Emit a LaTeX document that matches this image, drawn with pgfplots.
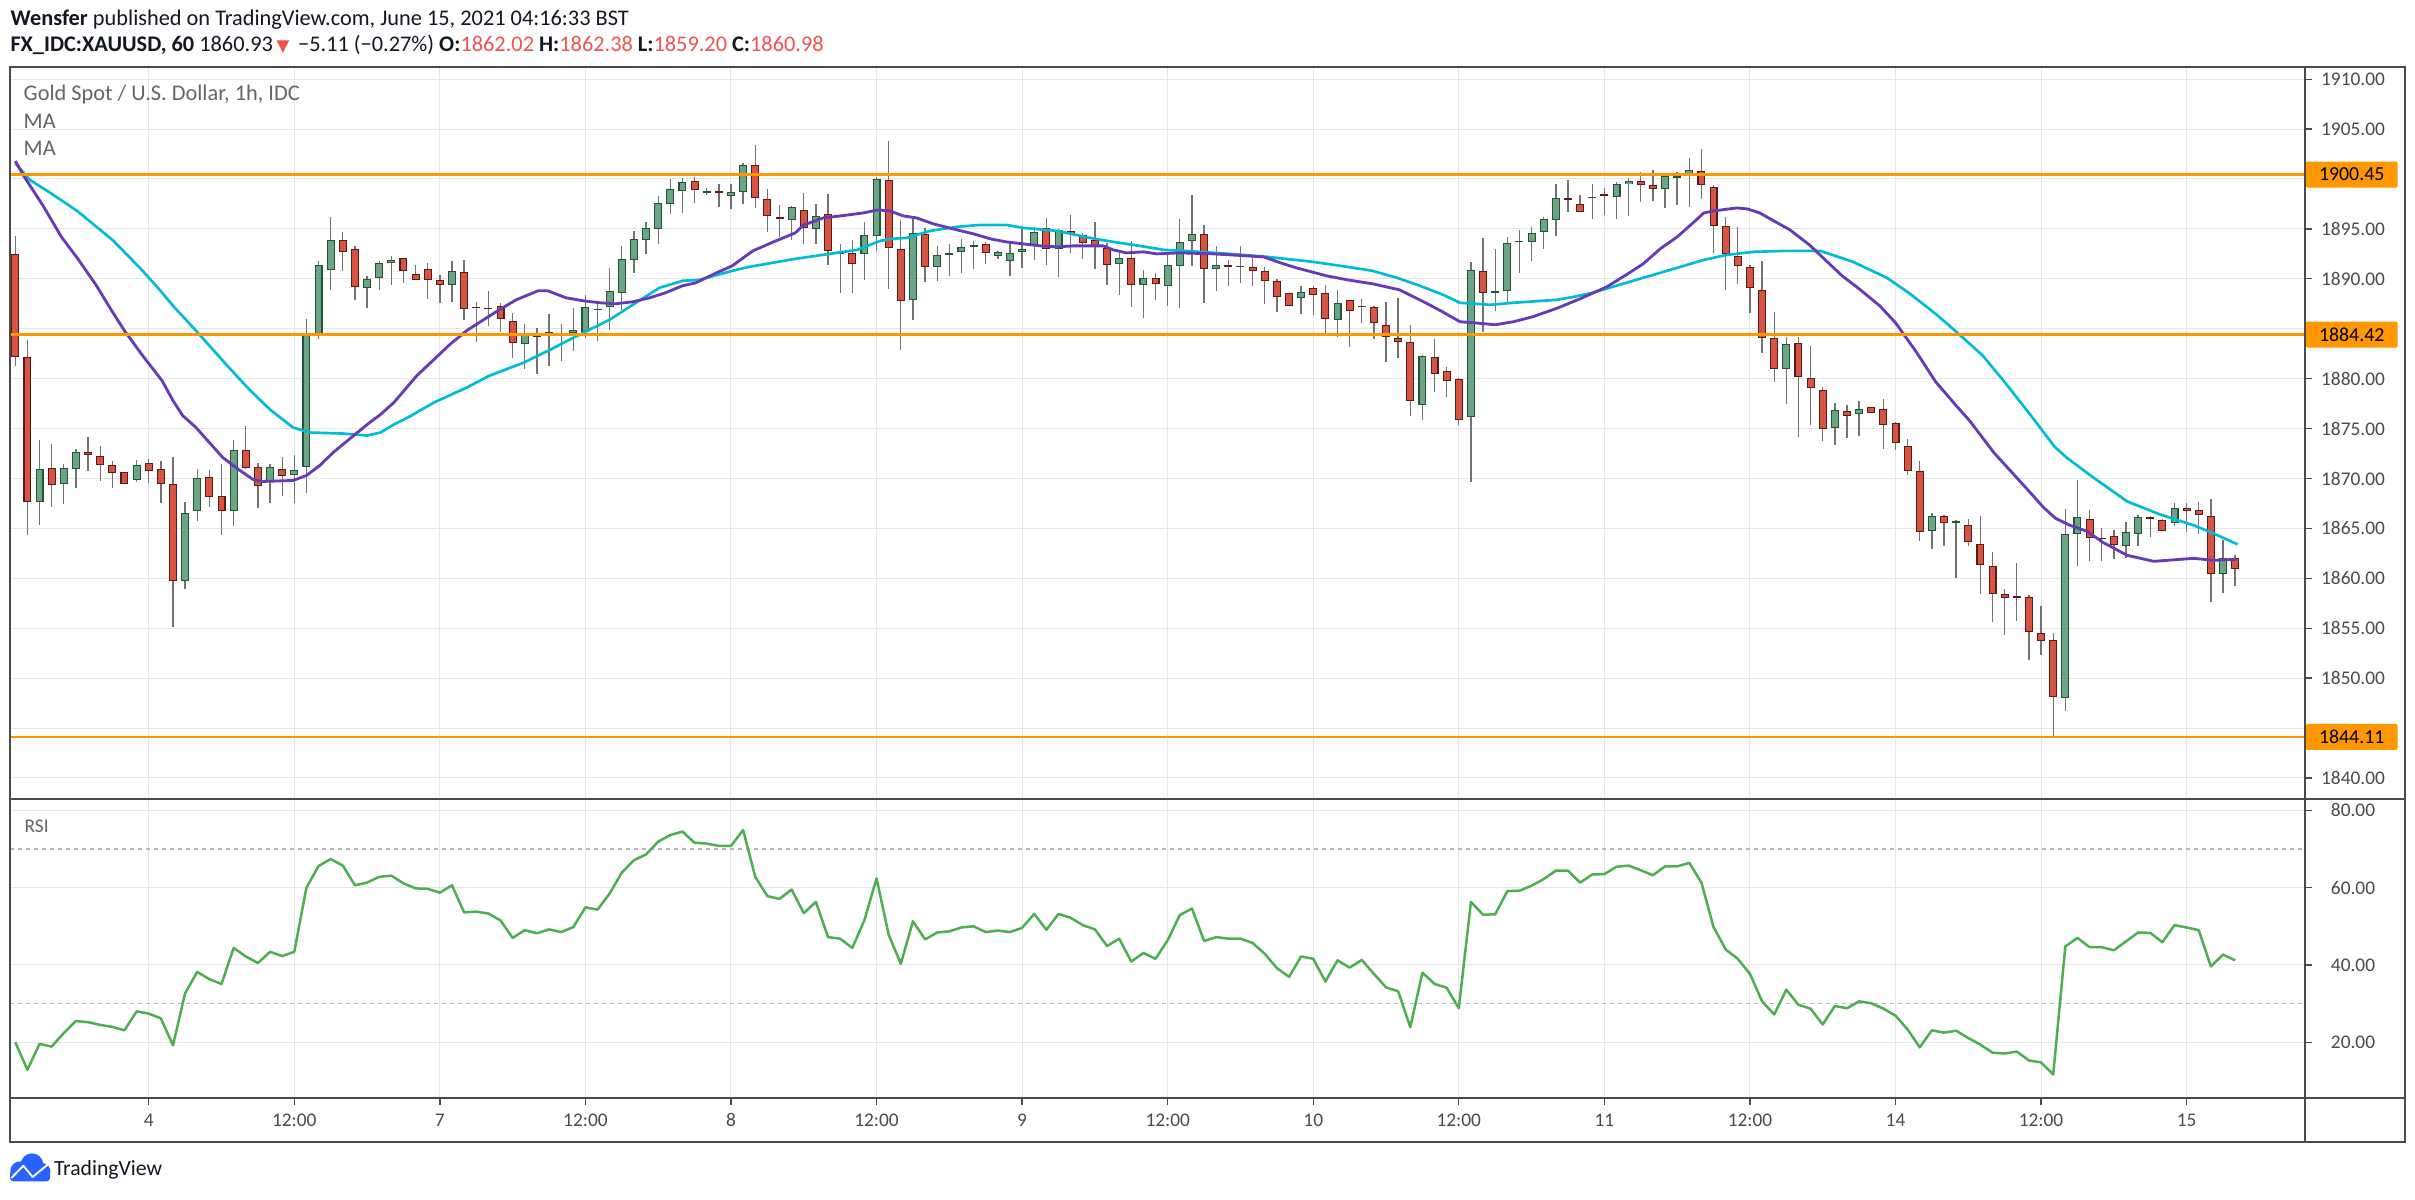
\documentclass[border=0pt]{standalone}
\usepackage{fontspec}
\setmainfont{Carlito}
\newfontfamily\symfont{DejaVu Sans}
\usepackage{pgfplots}
\usepackage{pgfplotstable}
\pgfplotsset{compat=1.18}
\definecolor{upfill}{HTML}{6BA583}
\definecolor{upline}{HTML}{225437}
\definecolor{dnfill}{HTML}{D75442}
\definecolor{dnline}{HTML}{5B1A13}
\definecolor{wickc}{HTML}{737375}
\definecolor{maP}{HTML}{673AB7}
\definecolor{maC}{HTML}{00BCD4}
\definecolor{orng}{HTML}{FF9800}
\definecolor{rsic}{HTML}{4CAF50}
\definecolor{gridc}{HTML}{E6E6E6}
\definecolor{framec}{HTML}{4A4A4A}
\definecolor{txt}{HTML}{4A4A4A}
\definecolor{hdr}{HTML}{131722}
\definecolor{redv}{HTML}{EF5350}
\definecolor{dashc}{HTML}{B8B8B8}
\definecolor{tvblue}{HTML}{2962FF}

\pgfplotstableread{
i o h l c
0 1892.5 1894.33 1881.27 1882.2
1 1882.2 1883.83 1864.37 1867.7
2 1867.7 1873.83 1865.37 1871.0
3 1871.0 1873.47 1867.17 1869.3
4 1869.4 1871.43 1867.47 1871.0
5 1871.0 1872.93 1869.07 1872.7
6 1872.7 1874.13 1870.77 1872.4
7 1872.3 1873.23 1869.77 1871.4
8 1871.4 1871.73 1869.07 1870.6
9 1870.6 1870.6 1869.4 1869.4
10 1869.9 1871.83 1869.67 1871.4
11 1871.6 1871.93 1869.6 1870.8
12 1870.9 1871.73 1867.57 1869.4
13 1869.4 1872.13 1855.1 1859.7
14 1859.7 1867.6 1858.97 1866.6
15 1866.8 1871.0 1865.73 1870.1
16 1870.1 1870.9 1867.17 1868.1
17 1868.3 1871.43 1864.37 1866.8
18 1866.8 1873.83 1865.27 1872.9
19 1872.9 1875.23 1871.0 1871.0
20 1871.2 1871.6 1867.07 1869.3
21 1869.6 1871.43 1867.57 1871.1
22 1871.0 1872.13 1868.27 1870.3
23 1870.4 1872.33 1867.57 1870.9
24 1871.2 1886.03 1868.6 1884.5
25 1884.5 1891.83 1883.93 1891.4
26 1890.9 1896.2 1888.87 1893.9
27 1893.9 1894.7 1890.8 1892.7
28 1893.0 1893.3 1887.87 1889.2
29 1889.1 1890.27 1887.07 1890.0
30 1890.1 1891.8 1888.87 1891.6
31 1891.6 1892.3 1889.37 1891.9
32 1892.1 1892.1 1889.57 1890.8
33 1890.5 1891.4 1889.9 1889.9
34 1891.0 1891.6 1888.0 1889.9
35 1889.9 1890.4 1887.57 1889.4
36 1889.4 1891.8 1887.67 1890.8
37 1890.7 1891.9 1885.87 1887.0
38 1887.2 1887.7 1883.67 1887.1
39 1887.1 1888.8 1885.27 1887.0
40 1887.3 1887.6 1884.67 1886.0
41 1885.8 1886.6 1882.13 1883.6
42 1883.5 1885.5 1881.0 1884.6
43 1884.3 1885.1 1880.5 1884.2
44 1884.5 1886.5 1881.27 1884.7
45 1884.4 1885.5 1881.8 1884.3
46 1884.6 1887.1 1882.8 1884.9
47 1884.7 1888.4 1884.1 1887.2
48 1886.9 1887.6 1883.8 1887.0
49 1887.2 1891.1 1884.9 1888.8
50 1888.6 1893.3 1886.9 1892.0
51 1891.9 1894.8 1890.6 1894.0
52 1893.9 1895.7 1892.5 1895.1
53 1895.0 1898.3 1893.5 1897.6
54 1897.5 1900.0 1896.5 1899.0
55 1898.8 1900.1 1896.6 1899.7
56 1899.8 1900.2 1897.6 1898.9
57 1898.6 1899.1 1898.4 1898.8
58 1898.8 1899.5 1897.2 1898.6
59 1898.3 1899.5 1897.0 1898.7
60 1898.7 1901.6 1897.5 1901.4
61 1901.4 1903.4 1897.1 1898.1
62 1898.0 1899.0 1894.7 1896.3
63 1896.2 1897.4 1894.2 1896.0
64 1895.9 1897.3 1893.9 1897.2
65 1896.9 1898.6 1893.5 1895.1
66 1895.0 1897.5 1893.5 1896.3
67 1896.5 1898.5 1891.4 1892.8
68 1892.7 1893.5 1888.6 1892.5
69 1892.6 1893.9 1888.6 1891.5
70 1892.5 1895.7 1889.9 1894.4
71 1894.3 1900.2 1892.8 1900.0
72 1899.9 1903.8 1889.0 1893.1
73 1893.0 1895.9 1882.9 1887.8
74 1887.9 1896.3 1885.9 1894.6
75 1894.5 1895.1 1889.7 1891.2
76 1891.2 1893.3 1889.8 1892.4
77 1892.4 1893.5 1890.3 1892.6
78 1892.7 1894.0 1890.6 1893.2
79 1893.2 1893.8 1891.0 1893.4
80 1893.5 1893.7 1891.5 1892.6
81 1892.3 1892.8 1892.0 1892.7
82 1891.8 1893.6 1890.3 1892.6
83 1892.7 1895.2 1891.1 1893.0
84 1893.3 1895.2 1891.9 1894.7
85 1895.1 1896.1 1891.4 1893.0
86 1893.0 1895.0 1890.2 1894.9
87 1894.8 1896.4 1892.6 1894.5
88 1894.4 1894.6 1892.0 1893.6
89 1893.9 1895.7 1891.0 1893.2
90 1893.1 1893.6 1889.4 1891.4
91 1891.5 1892.6 1888.4 1892.1
92 1892.1 1893.8 1887.2 1889.4
93 1889.4 1890.9 1886.1 1890.1
94 1890.1 1890.6 1887.9 1889.5
95 1889.3 1892.6 1887.3 1891.4
96 1891.3 1896.0 1887.1 1893.7
97 1893.8 1898.4 1891.3 1894.5
98 1894.5 1895.4 1887.6 1891.0
99 1891.0 1893.3 1888.8 1891.4
100 1891.35 1891.9 1889.3 1891.3
101 1891.2 1893.3 1889.6 1891.3
102 1891.2 1892.2 1889.3 1890.8
103 1890.8 1891.2 1887.5 1889.8
104 1889.8 1890.0 1886.7 1888.2
105 1888.6 1888.6 1887.3 1887.3
106 1888.1 1889.3 1886.5 1888.7
107 1889.1 1889.3 1886.4 1888.4
108 1888.6 1889.4 1884.3 1886.0
109 1885.9 1888.9 1884.2 1887.6
110 1887.9 1887.9 1883.2 1886.8
111 1887.2 1888.0 1885.6 1887.3
112 1887.2 1887.3 1884.0 1885.6
113 1885.4 1887.7 1881.7 1884.2
114 1884.1 1888.1 1882.1 1883.7
115 1883.7 1885.4 1876.3 1877.8
116 1877.4 1882.4 1875.9 1882.3
117 1882.2 1884.0 1878.7 1880.5
118 1880.8 1881.2 1878.2 1879.8
119 1880.0 1880.1 1875.4 1875.9
120 1876.2 1891.7 1869.7 1890.9
121 1890.8 1894.1 1884.7 1888.6
122 1888.65 1893.0 1886.8 1888.7
123 1888.8 1894.2 1887.6 1893.6
124 1893.7 1894.9 1890.6 1893.8
125 1893.7 1895.2 1891.8 1894.6
126 1894.7 1896.2 1893.0 1896.0
127 1895.9 1899.5 1894.3 1898.1
128 1898.1 1899.9 1896.7 1898.0
129 1897.5 1898.4 1896.7 1896.7
130 1898.1 1899.5 1896.0 1898.2
131 1898.5 1899.1 1896.4 1898.3
132 1898.2 1899.7 1896.0 1899.5
133 1899.5 1900.1 1896.3 1899.8
134 1899.8 1900.7 1897.7 1899.4
135 1899.4 1900.9 1897.8 1899.0
136 1899.0 1900.3 1897.1 1900.3
137 1900.1 1900.7 1897.4 1900.3
138 1900.3 1902.1 1897.2 1900.9
139 1900.8 1903.0 1898.0 1899.4
140 1899.2 1899.4 1892.6 1895.3
141 1895.3 1896.2 1888.9 1892.5
142 1892.3 1895.2 1889.5 1891.3
143 1891.2 1891.4 1886.6 1889.1
144 1888.9 1891.8 1882.6 1884.1
145 1884.05 1886.7 1879.7 1881.0
146 1881.0 1884.2 1877.5 1883.5
147 1883.6 1884.2 1874.2 1880.2
148 1880.1 1883.3 1875.4 1879.1
149 1878.9 1879.2 1873.8 1875.0
150 1875.1 1877.6 1873.4 1876.9
151 1876.8 1877.4 1874.1 1876.3
152 1876.5 1877.8 1874.3 1877.0
153 1877.2 1877.2 1876.6 1876.6
154 1877.0 1878.0 1873.0 1875.4
155 1875.6 1875.7 1872.9 1873.6
156 1873.3 1874.0 1870.3 1870.7
157 1870.8 1871.8 1863.7 1864.6
158 1864.7 1866.5 1862.9 1866.2
159 1866.3 1866.4 1863.2 1865.5
160 1865.55 1865.85 1860.0 1865.75
161 1865.3 1865.9 1863.2 1863.6
162 1863.4 1866.3 1858.4 1861.3
163 1861.2 1862.6 1855.6 1858.4
164 1858.4 1858.9 1854.3 1858.0
165 1858.15 1861.5 1855.7 1858.1
166 1858.1 1858.3 1851.8 1854.6
167 1854.5 1857.2 1852.3 1853.7
168 1853.8 1854.5 1844.11 1848.1
169 1848.05 1867.0 1846.7 1864.4
170 1864.4 1869.9 1861.2 1866.1
171 1866.0 1866.9 1861.7 1864.0
172 1864.05 1865.0 1861.7 1864.0
173 1864.2 1864.8 1861.9 1863.3
174 1863.2 1865.6 1862.0 1864.6
175 1864.4 1866.3 1863.2 1866.1
176 1866.1 1866.3 1864.1 1866.05
177 1865.8 1866.0 1864.7 1864.7
178 1865.5 1867.5 1865.2 1867.1
179 1867.1 1867.6 1864.6 1866.8
180 1866.8 1867.6 1864.4 1866.3
181 1866.3 1867.9 1857.6 1860.4
182 1860.4 1863.8 1858.5 1862.0
183 1862.02 1862.38 1859.20 1860.98
}\candles

\pgfplotstableread{
i p
0 1901.8
0.7 1900.3
2.3 1897.3
3.8 1894.2
5.1 1892.1
6.7 1889.3
7.9 1886.9
9.0 1884.8
10.5 1882.3
12.1 1879.8
13 1877.8
13.8 1876.3
14.9 1875.1
16 1873.6
17.1 1872.1
18.4 1870.9
19.6 1869.9
20.4 1869.7
22.9 1869.8
24 1870.3
25.1 1871.3
26.2 1872.6
27.9 1874.3
29 1875.4
30.1 1876.4
31.2 1877.6
31.7 1878.3
33.1 1880.3
34.5 1881.9
35.8 1883.4
37.2 1884.8
38.6 1885.9
39.9 1886.9
41.3 1887.9
43.1 1888.8
43.9 1888.8
45.4 1888.1
46.8 1887.8
48.2 1887.6
49.5 1887.5
50.9 1887.7
52.3 1888.1
53.6 1888.6
55 1889.3
56.1 1889.6
57.8 1890.6
59.1 1891.3
60.8 1892.8
62.7 1893.8
64.3 1894.6
65 1895.4
66.6 1896.1
68 1896.3
69.9 1896.6
71.1 1896.9
72.1 1896.8
73.2 1896.3
74.3 1896.1
75.7 1895.5
77.3 1895.0
79 1894.5
80.4 1894.0
81.7 1893.7
83.1 1893.5
84.5 1893.3
85.9 1893.2
87.2 1893.3
88.6 1893.3
89.7 1893.3
90.5 1892.9
91.6 1892.6
93 1892.7
94.1 1892.5
96 1892.6
98.8 1892.5
102.9 1892.2
104.3 1891.6
105.6 1891.1
108.1 1890.3
109.8 1889.9
111.9 1889.5
114.1 1888.9
116.1 1887.7
117.5 1886.8
119.1 1885.7
120.2 1885.6
122 1885.4
123.5 1885.7
125.1 1886.2
127.2 1887.1
129 1888.0
131.2 1889.2
132.8 1890.4
134.2 1891.5
135.6 1893.0
137 1894.2
138.3 1895.6
139.2 1896.6
140 1896.8
141.9 1897.1
142.8 1897.0
143.8 1896.6
146.3 1894.9
147.9 1893.4
150.6 1890.3
152 1889.0
153.7 1887.3
155 1885.6
156.7 1882.7
158.3 1879.7
160 1877.3
161.1 1875.8
163.1 1872.6
165.8 1869.0
167.2 1867.1
168.2 1866.0
169.4 1865.3
170.8 1864.7
172.1 1863.6
174.1 1862.3
176.3 1861.7
179.6 1862.0
181.2 1861.8
183.1 1861.9
}\maslow

\pgfplotstableread{
i p
0 1901.6
1.2 1899.9
2.9 1898.6
5.1 1896.8
8.1 1893.8
10.5 1890.8
11.9 1888.9
13 1887.3
14.9 1884.8
17.4 1881.4
19.3 1878.9
21 1876.9
22.9 1875.1
24.3 1874.6
27 1874.5
29 1874.3
30.1 1874.6
31.2 1875.4
32.5 1876.2
34.5 1877.6
37.2 1879.1
39.1 1880.3
41.9 1881.6
44.1 1882.9
46 1884.1
49 1885.9
50.9 1887.4
53.1 1889.1
55 1889.8
56.4 1889.9
59.1 1890.8
60.5 1891.2
64.3 1892.0
69.4 1892.9
71.3 1893.8
72.1 1894.0
73.5 1894.1
75.4 1894.8
77.6 1895.2
79.5 1895.4
81.7 1895.4
83.1 1895.1
85.9 1894.8
88.6 1894.1
90 1893.8
92.7 1893.3
94.7 1892.9
96.4 1892.8
100.1 1892.5
103.2 1892.2
107 1891.7
109.8 1891.2
111.9 1890.8
113.9 1890.1
115.8 1889.3
117.7 1888.4
119.1 1887.6
121.6 1887.4
123.5 1887.6
127.1 1887.9
128.5 1888.2
130 1888.6
132.8 1889.6
135.6 1890.6
137 1891.1
139.2 1891.9
141.1 1892.4
143.3 1892.7
146 1892.8
148.8 1892.8
151.5 1891.7
154.3 1890.1
156.2 1888.5
158.4 1886.4
160.1 1884.6
162.2 1882.3
164.1 1879.5
166.1 1876.4
168.1 1873.2
169.1 1872.1
171.3 1870.1
174.1 1867.7
176.8 1866.4
179.6 1865.3
181.2 1864.5
183.2 1863.4
}\mafast

\pgfplotstableread{
i v
0 20.0
1 12.9
2 19.6
3 18.9
4 22.4
5 25.5
6 25.2
7 24.5
8 24.0
9 23.1
10 28.0
11 27.4
12 26.2
13 19.2
14 32.7
15 38.2
16 36.3
17 35.1
18 44.4
19 42.2
20 40.5
21 43.4
22 42.3
23 43.4
24 60.0
25 65.6
26 67.4
27 65.7
28 60.6
29 61.3
30 62.8
31 63.1
32 61.1
33 59.8
34 59.7
35 58.7
36 60.6
37 53.6
38 53.8
39 53.3
40 51.5
41 47.0
42 49.0
43 48.2
44 49.2
45 48.5
46 49.8
47 54.9
48 54.3
49 58.5
50 63.9
51 67.1
52 68.6
53 71.9
54 73.6
55 74.5
56 71.6
57 71.4
58 70.8
59 70.8
60 74.9
61 62.8
62 57.8
63 57.1
64 59.5
65 53.4
66 56.3
67 47.2
68 46.8
69 44.4
70 51.6
71 62.4
72 47.8
73 40.3
74 51.3
75 46.6
76 48.4
77 48.7
78 49.7
79 50.0
80 48.5
81 48.9
82 48.5
83 49.6
84 53.2
85 49.1
86 53.2
87 52.2
88 50.3
89 49.2
90 44.9
91 46.8
92 40.9
93 43.1
94 41.6
95 46.4
96 52.9
97 54.6
98 46.2
99 47.2
100 46.8
101 46.8
102 45.7
103 42.9
104 39.2
105 36.9
106 42.2
107 41.6
108 35.7
109 41.2
110 39.3
111 41.3
112 37.7
113 34.2
114 33.2
115 23.9
116 38.0
117 35.1
118 34.1
119 28.8
120 56.3
121 53.0
122 53.1
123 59.1
124 59.2
125 60.5
126 62.2
127 64.4
128 64.4
129 61.3
130 63.4
131 63.5
132 65.4
133 65.7
134 64.5
135 63.2
136 65.5
137 65.5
138 66.4
139 61.3
140 49.8
141 44.0
142 41.6
143 37.7
144 30.6
145 27.2
146 33.6
147 29.7
148 28.7
149 24.6
150 29.4
151 28.8
152 30.6
153 30.1
154 28.7
155 26.9
156 23.3
157 18.7
158 23.1
159 22.5
160 23.0
161 21.1
162 19.4
163 17.3
164 17.1
165 17.6
166 15.3
167 14.8
168 11.7
169 44.8
170 47.0
171 44.6
172 44.6
173 43.8
174 46.1
175 48.4
176 48.3
177 45.9
178 50.3
179 49.7
180 49.0
181 39.6
182 42.7
183 41.2
}\rsi

\pgfplotsset{
  tvaxis/.style={
    scale only axis, anchor=south west, width=688.5pt,
    xmin=-0.437, xmax=188.76,
    axis line style={draw=framec, line width=0.6pt},
    clip mode=individual,
    grid=major, major grid style={draw=gridc, line width=0.3pt},
    xtick={11,23,...,179},
    tick align=outside, major tick length=2.1pt,
    ytick pos=right, yticklabel pos=right,
    ytick style={draw=framec, line width=0.4pt},
    yticklabel style={anchor=center, xshift=12.3pt, text=txt, font=\fontsize{5.8}{6}\selectfont},
    /pgf/number format/assume math mode=true,
  },
  wick/.style={forget plot, draw=none, mark=none,
    error bars/.cd, y dir=both, y explicit, error mark=none,
    error bar style={draw=wickc, line width=0.4pt, line cap=butt},
    /pgfplots/.cd},
  body/.style 2 args={forget plot, draw=none, mark=none,
    error bars/.cd, y dir=both, y explicit, error mark=none,
    error bar style={draw=#1, line width=#2, line cap=butt},
    /pgfplots/.cd},
}
\tikzset{
  lvl/.style={fill=orng, text=black, anchor=west, minimum width=27.6pt, minimum height=7.8pt,
        inner sep=0pt, rounded corners=0.6pt, font=\fontsize{5.95}{6}\selectfont},
  tlab/.style={anchor=center, yshift=-6.6pt, inner sep=0pt, text=txt, font=\fontsize{5.8}{6}\selectfont},
  hd/.style={anchor=west, inner sep=0pt, text=hdr, font=\fontsize{6.7}{7}\selectfont},
  lg/.style={anchor=west, inner sep=0pt, text=txt!85!white, font=\fontsize{6.7}{7}\selectfont},
}

\begin{document}
\begin{tikzpicture}[x=1pt,y=1pt]
\fill[white] (0,0) rectangle (724.5,359.7);

% ---------- price panel ----------
\begin{axis}[tvaxis,
  at={(3pt,120pt)}, height=219.6pt,
  ymin=1837.89, ymax=1911.22,
  xticklabels={}, xtick style={draw=none},
  ytick={1840,1845,...,1910},
  yticklabels={1840.00,{},1850.00,1855.00,1860.00,1865.00,1870.00,1875.00,1880.00,{},1890.00,1895.00,{},1905.00,1910.00},
]
% wicks
\addplot [wick] table [x=i, y expr={(\thisrow{h}+\thisrow{l})/2}, y error expr={(\thisrow{h}-\thisrow{l})/2}] \candles;
% up bodies
\addplot [restrict expr to domain={\thisrow{c}-\thisrow{o}}{0:1000}, body={upline}{2.4pt}]
  table [x=i, y expr={(\thisrow{o}+\thisrow{c})/2}, y error expr={max(abs(\thisrow{c}-\thisrow{o})/2,0.07)}] \candles;
\addplot [restrict expr to domain={\thisrow{c}-\thisrow{o}}{0:1000}, body={upfill}{1.75pt}]
  table [x=i, y expr={(\thisrow{o}+\thisrow{c})/2}, y error expr={max(abs(\thisrow{c}-\thisrow{o})/2-0.1,0)}] \candles;
% down bodies
\addplot [restrict expr to domain={\thisrow{c}-\thisrow{o}}{-1000:-0.00001}, body={dnline}{2.4pt}]
  table [x=i, y expr={(\thisrow{o}+\thisrow{c})/2}, y error expr={max(abs(\thisrow{c}-\thisrow{o})/2,0.07)}] \candles;
\addplot [restrict expr to domain={\thisrow{c}-\thisrow{o}}{-1000:-0.00001}, body={dnfill}{1.75pt}]
  table [x=i, y expr={(\thisrow{o}+\thisrow{c})/2}, y error expr={max(abs(\thisrow{c}-\thisrow{o})/2-0.1,0)}] \candles;
% moving averages
\addplot [maC, line width=0.8pt, line join=round, mark=none] table [x=i, y=p] \mafast;
\addplot [maP, line width=0.85pt, line join=round, mark=none] table [x=i, y=p] \maslow;
% horizontal levels
\addplot [orng, line width=0.8pt, mark=none] coordinates {(-0.437,1900.45) (188.76,1900.45)};
\addplot [orng, line width=0.8pt, mark=none] coordinates {(-0.437,1884.42) (188.76,1884.42)};
\addplot [orng, line width=0.8pt, mark=none] coordinates {(-0.437,1844.11) (188.76,1844.11)};
\node[lvl] at (axis cs:188.76,1900.45) {1900.45};
\node[lvl] at (axis cs:188.76,1884.42) {1884.42};
\node[lvl] at (axis cs:188.76,1844.11) {1844.11};
\end{axis}

% ---------- RSI panel ----------
\begin{axis}[tvaxis,
  at={(3pt,30.3pt)}, height=89.7pt,
  ymin=5.59, ymax=82.92,
  xtick pos=left,
  xtick style={draw=framec, line width=0.4pt},
  xticklabels={},
  ytick={20,40,60,80},
  yticklabels={20.00,40.00,60.00,80.00},
]
\addplot [dashc, line width=0.35pt, dash pattern=on 1.2pt off 1.2pt, mark=none] coordinates {(-0.437,70) (188.76,70)};
\addplot [dashc, line width=0.35pt, dash pattern=on 1.2pt off 1.2pt, mark=none] coordinates {(-0.437,30) (188.76,30)};
\addplot [rsic, line width=0.75pt, line join=round, mark=none] table [x=i, y=v] \rsi;
% time-axis labels
\node[tlab] at (axis cs:11,5.59) {4};
\node[tlab] at (axis cs:23,5.59) {12:00};
\node[tlab] at (axis cs:35,5.59) {7};
\node[tlab] at (axis cs:47,5.59) {12:00};
\node[tlab] at (axis cs:59,5.59) {8};
\node[tlab] at (axis cs:71,5.59) {12:00};
\node[tlab] at (axis cs:83,5.59) {9};
\node[tlab] at (axis cs:95,5.59) {12:00};
\node[tlab] at (axis cs:107,5.59) {10};
\node[tlab] at (axis cs:119,5.59) {12:00};
\node[tlab] at (axis cs:131,5.59) {11};
\node[tlab] at (axis cs:143,5.59) {12:00};
\node[tlab] at (axis cs:155,5.59) {14};
\node[tlab] at (axis cs:167,5.59) {12:00};
\node[tlab] at (axis cs:179,5.59) {15};
\end{axis}

% ---------- frame ----------
\draw[framec, line width=0.6pt] (3,17.1) rectangle (721.5,339.6);
\draw[framec, line width=0.6pt] (3,120) -- (721.5,120);
\draw[framec, line width=0.6pt] (3,30.3) -- (721.5,30.3);
\draw[framec, line width=0.6pt] (691.5,17.1) -- (691.5,339.6);

% ---------- texts ----------
\node[hd] at (3,353.7)
  {\textbf{Wensfer} published on TradingView.com, June 15, 2021 04:16:33 BST};
\node[hd] at (3,346.2)
  {\textbf{FX\_IDC:XAUUSD, 60} 1860.93\,{\color{redv}\symfont\fontsize{5}{5}\selectfont ▼}\, −5.11 (−0.27\%) \textbf{O:}\textcolor{redv}{1862.02} \textbf{H:}\textcolor{redv}{1862.38} \textbf{L:}\textcolor{redv}{1859.20} \textbf{C:}\textcolor{redv}{1860.98}};
\node[lg] at (6.9,331.2) {Gold Spot / U.S. Dollar, 1h, IDC};
\node[lg] at (6.9,323.2) {MA};
\node[lg] at (6.9,315.3) {MA};
\node[lg, font=\fontsize{5.8}{6}\selectfont] at (7.2,111.7) {RSI};

% ---------- logo ----------
\fill[tvblue] (6.0,8.4) circle (2.9);
\fill[tvblue] (9.6,10.3) circle (3.4);
\fill[tvblue] (12.6,8.3) circle (2.5);
\fill[tvblue, rounded corners=1pt] (3.0,5.3) rectangle (15.0,8.6);
\draw[white, line width=0.55pt, line join=round] (3.4,6.3) -- (7.0,10.0) -- (9.8,6.6) -- (14.4,10.4);
\node[anchor=west, inner sep=0pt, text=hdr, font=\fontsize{6.5}{7}\selectfont] at (16.0,8.7) {TradingView};
\end{tikzpicture}
\end{document}
